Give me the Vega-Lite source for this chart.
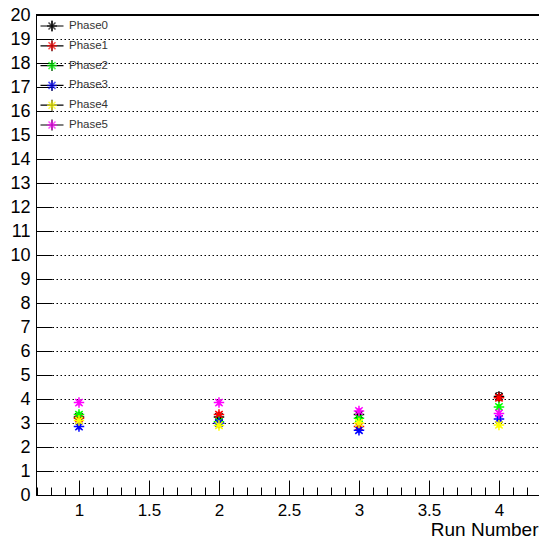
{
  "$schema": "https://vega.github.io/schema/vega-lite/v6.json",
  "width": 503,
  "height": 480,
  "autosize": "none",
  "padding": {"left": 36, "top": 15, "right": 0, "bottom": 43},
  "background": "white",
  "config": {"view": {"stroke": null}, "font": "Liberation Sans"},
  "data": {"values": [
    {"run": 1, "phase": "Phase0", "value": 3.25, "err": 0.1},
    {"run": 1, "phase": "Phase1", "value": 3.2, "err": 0.1},
    {"run": 1, "phase": "Phase2", "value": 3.35, "err": 0.1},
    {"run": 1, "phase": "Phase3", "value": 2.85, "err": 0.1},
    {"run": 1, "phase": "Phase4", "value": 3.1, "err": 0.1},
    {"run": 1, "phase": "Phase5", "value": 3.85, "err": 0.1},
    {"run": 2, "phase": "Phase0", "value": 3.25, "err": 0.1},
    {"run": 2, "phase": "Phase1", "value": 3.35, "err": 0.1},
    {"run": 2, "phase": "Phase2", "value": 3.05, "err": 0.1},
    {"run": 2, "phase": "Phase3", "value": 3.0, "err": 0.1},
    {"run": 2, "phase": "Phase4", "value": 2.9, "err": 0.1},
    {"run": 2, "phase": "Phase5", "value": 3.85, "err": 0.1},
    {"run": 3, "phase": "Phase0", "value": 3.35, "err": 0.12},
    {"run": 3, "phase": "Phase1", "value": 2.85, "err": 0.1},
    {"run": 3, "phase": "Phase2", "value": 3.2, "err": 0.1},
    {"run": 3, "phase": "Phase3", "value": 2.7, "err": 0.1},
    {"run": 3, "phase": "Phase4", "value": 3.0, "err": 0.1},
    {"run": 3, "phase": "Phase5", "value": 3.5, "err": 0.1},
    {"run": 4, "phase": "Phase0", "value": 4.1, "err": 0.17},
    {"run": 4, "phase": "Phase1", "value": 4.05, "err": 0.1},
    {"run": 4, "phase": "Phase2", "value": 3.67, "err": 0.1},
    {"run": 4, "phase": "Phase3", "value": 3.17, "err": 0.1},
    {"run": 4, "phase": "Phase4", "value": 2.92, "err": 0.1},
    {"run": 4, "phase": "Phase5", "value": 3.4, "err": 0.1}
  ]},
  "encoding": {
    "x": {
      "field": "run", "type": "quantitative",
      "scale": {"domain": [0.693, 4.286], "nice": false, "zero": false},
      "axis": {
        "values": [0.7,0.8,0.9,1,1.1,1.2,1.3,1.4,1.5,1.6,1.7,1.8,1.9,2,2.1,2.2,2.3,2.4,2.5,2.6,2.7,2.8,2.9,3,3.1,3.2,3.3,3.4,3.5,3.6,3.7,3.8,3.9,4,4.1,4.2],
        "tickSize": {"condition": {"test": "abs(datum.value*2 - round(datum.value*2)) < 0.001", "value": -15}, "value": -8},
        "labelExpr": "abs(datum.value*2 - round(datum.value*2)) < 0.001 ? '' + datum.value : ''",
        "labelFontSize": 17,
        "labelColor": "black",
        "labelPadding": 22,
        "labelBaseline": "top",
        "labelFlush": false,
        "labelOverlap": false,
        "domainColor": "black",
        "tickColor": "black",
        "grid": false,
        "title": "Run Number",
        "titleFontSize": 19,
        "titleFontWeight": "normal",
        "titleColor": "black",
        "titleAnchor": "end",
        "titleAlign": "right",
        "titleX": 502,
        "titleY": 40,
        "titleBaseline": "alphabetic"
      }
    },
    "y": {
      "field": "value", "type": "quantitative",
      "scale": {"domain": [0, 20], "nice": false},
      "axis": {
        "values": [0,1,2,3,4,5,6,7,8,9,10,11,12,13,14,15,16,17,18,19,20],
        "tickSize": -16,
        "labelFontSize": 18,
        "labelColor": "black",
        "labelPadding": 22,
        "labelFlush": false,
        "labelOverlap": false,
        "domainColor": "black",
        "tickColor": "black",
        "grid": true,
        "gridColor": "black",
        "gridDash": [1.5, 2.5],
        "gridWidth": 1,
        "title": null
      }
    }
  },
  "layer": [
    {
      "mark": {"type": "rule", "color": "black", "strokeWidth": 1},
      "encoding": {
        "y": {"datum": 20}, "x": null,
        "strokeDash": {
          "field": "phase", "type": "nominal",
          "scale": {"range": [[1,0],[1,0],[1,0],[1,0],[1,0],[1,0]]},
          "legend": {
            "orient": "none", "legendX": 10, "legendY": 5, "title": null, "padding": 0,
            "symbolType": "M-2.3,0L2.3,0M0,-1.1L0,1.1",
            "symbolSize": 100, "symbolStrokeColor": "black", "symbolStrokeWidth": 1.2,
            "labelFontSize": 11.5, "labelColor": "transparent", "labelOffset": 11,
            "rowPadding": 3.8
          }
        }
      }
    },
    {
      "mark": {"type": "errorbar", "ticks": {"size": 6}, "thickness": 1},
      "encoding": {
        "yError": {"field": "err"},
        "color": {"field": "phase", "type": "nominal"}
      }
    },
    {
      "mark": {"type": "point", "shape": "M0,-1L0,1M-1,0L1,0M-0.7,-0.7L0.7,0.7M-0.7,0.7L0.7,-0.7", "filled": false, "size": 110, "strokeWidth": 1.5, "opacity": 1},
      "encoding": {
        "color": {
          "field": "phase", "type": "nominal",
          "scale": {"domain": ["Phase0","Phase1","Phase2","Phase3","Phase4","Phase5"], "range": ["#000000","#ff0000","#00ff00","#0000ff","#ffff00","#ff00ff"]},
          "legend": {
            "orient": "none", "legendX": 10, "legendY": 5, "title": null, "padding": 0,
            "symbolType": "M0,-1L0,1M-1,0L1,0M-0.7,-0.7L0.7,0.7M-0.7,0.7L0.7,-0.7",
            "symbolSize": 100, "symbolStrokeWidth": 1.5,
            "labelFontSize": 11.5, "labelColor": "#333333", "labelOffset": 11,
            "rowPadding": 3.8
          }
        }
      }
    }
  ]
}
